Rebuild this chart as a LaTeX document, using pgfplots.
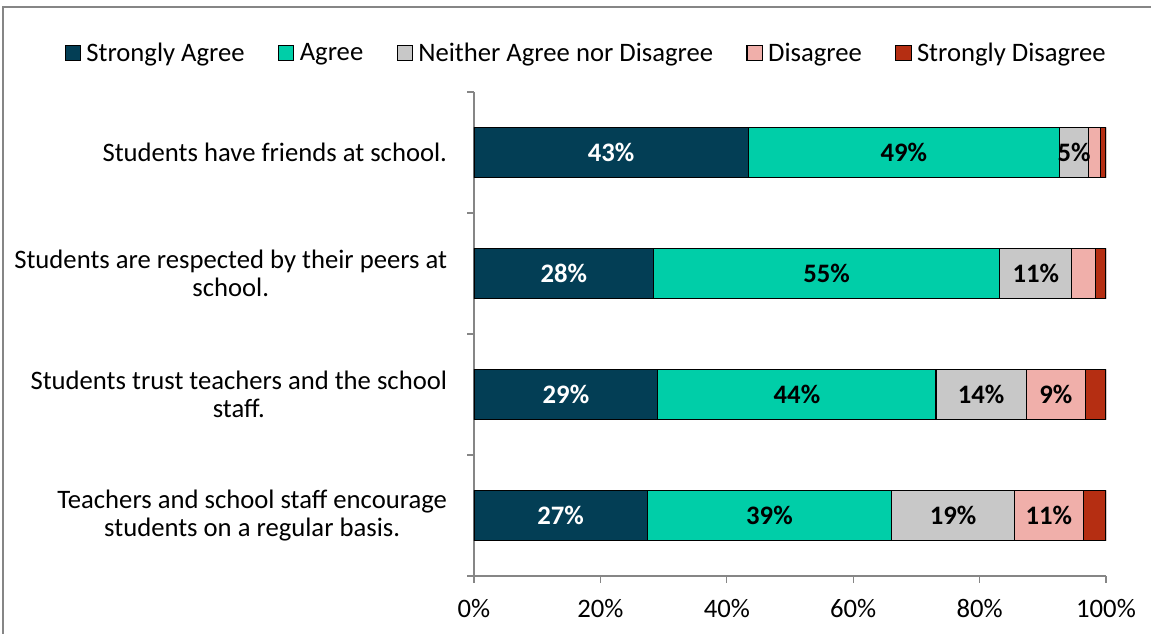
\documentclass[border=0pt]{standalone}
\usepackage{pgfplots}
\pgfplotsset{compat=1.18}
\usepackage{fontspec}
\setmainfont{Carlito}

\definecolor{sa}{RGB}{3,62,85}
\definecolor{ag}{RGB}{0,206,168}
\definecolor{ne}{RGB}{200,200,200}
\definecolor{di}{RGB}{240,175,170}
\definecolor{sd}{RGB}{181,46,18}
\definecolor{frm}{RGB}{134,134,134}

\begin{document}
\begin{tikzpicture}[font=\fontsize{20}{21}\selectfont]
\useasboundingbox (-355.5pt,-42.75pt) rectangle (507.75pt,432pt);
\draw[frm, line width=1.1pt] (-353.25pt,-60pt) -- (-353.25pt,426.75pt) -- (520pt,426.75pt);
\begin{axis}[
    at={(0,0)}, anchor=south west,
    scale only axis, width=474pt, height=363pt,
    xbar stacked, bar width=37.5pt,
    xmin=0, xmax=100, ymin=0.5, ymax=4.5, y dir=reverse,
    axis x line*=bottom, axis y line*=left,
    axis line style={frm, line width=1pt},
    tick align=outside,
    major tick length=5pt, minor tick length=5pt,
    xtick={0,20,40,60,80,100},
    xticklabels={0\%,20\%,40\%,60\%,80\%,100\%},
    x tick style={frm, line width=1pt},
    ytick={1,2,3,4},
    minor ytick={0.5,1.5,2.5,3.5,4.5},
    major y tick style={draw=none},
    minor y tick style={frm, line width=1pt},
    yticklabels={
        Students have friends at school.,
        {Students are respected by their peers at\\school.},
        {Students trust teachers and the school\\staff.},
        {Teachers and school staff encourage\\students on a regular basis.}},
    yticklabel style={align=center, inner sep=0pt, xshift=-15pt},
    xticklabel style={yshift=-9pt},
    visualization depends on={rawx \as \rawx},
    nodes near coords={\ifdim\rawx pt<4.5pt\relax\else
        \pgfmathprintnumber[fixed,precision=0,assume math mode=true]{\rawx}\%\fi},
    every node near coord/.append style={font=\fontsize{20}{21}\selectfont\bfseries, anchor=center, inner sep=0pt},
    legend style={at={(0.178,1.0806)}, anchor=center, draw=none, fill=none,
        legend columns=5, font=\fontsize{20}{21}\selectfont,
        /tikz/every odd column/.append style={column sep=2pt},
        /tikz/every even column/.append style={column sep=23pt}},
    legend image code/.code={\draw[#1,draw=black,line width=0.8pt] (0pt,-5.75pt) rectangle (11.5pt,5.75pt);},
]
\addplot[fill=sa, draw=black, line width=0.8pt, every node near coord/.append style={text=white}]
    coordinates {(43.4,1) (28.4,2) (29.1,3) (27.4,4)};
\addplot[fill=ag, draw=black, line width=0.8pt, every node near coord/.append style={text=black}]
    coordinates {(49.2,1) (54.8,2) (44.0,3) (38.7,4)};
\addplot[fill=ne, draw=black, line width=0.8pt, every node near coord/.append style={text=black}]
    coordinates {(4.7,1) (11.4,2) (14.3,3) (19.4,4)};
\addplot[fill=di, draw=black, line width=0.8pt, every node near coord/.append style={text=black}]
    coordinates {(1.8,1) (3.7,2) (9.3,3) (10.9,4)};
\addplot[fill=sd, draw=black, line width=0.8pt, every node near coord/.append style={text=black}]
    coordinates {(0.9,1) (1.7,2) (3.3,3) (3.6,4)};
\legend{Strongly Agree, Agree, Neither Agree nor Disagree, Disagree, Strongly Disagree}
\end{axis}
\end{tikzpicture}
\end{document}
